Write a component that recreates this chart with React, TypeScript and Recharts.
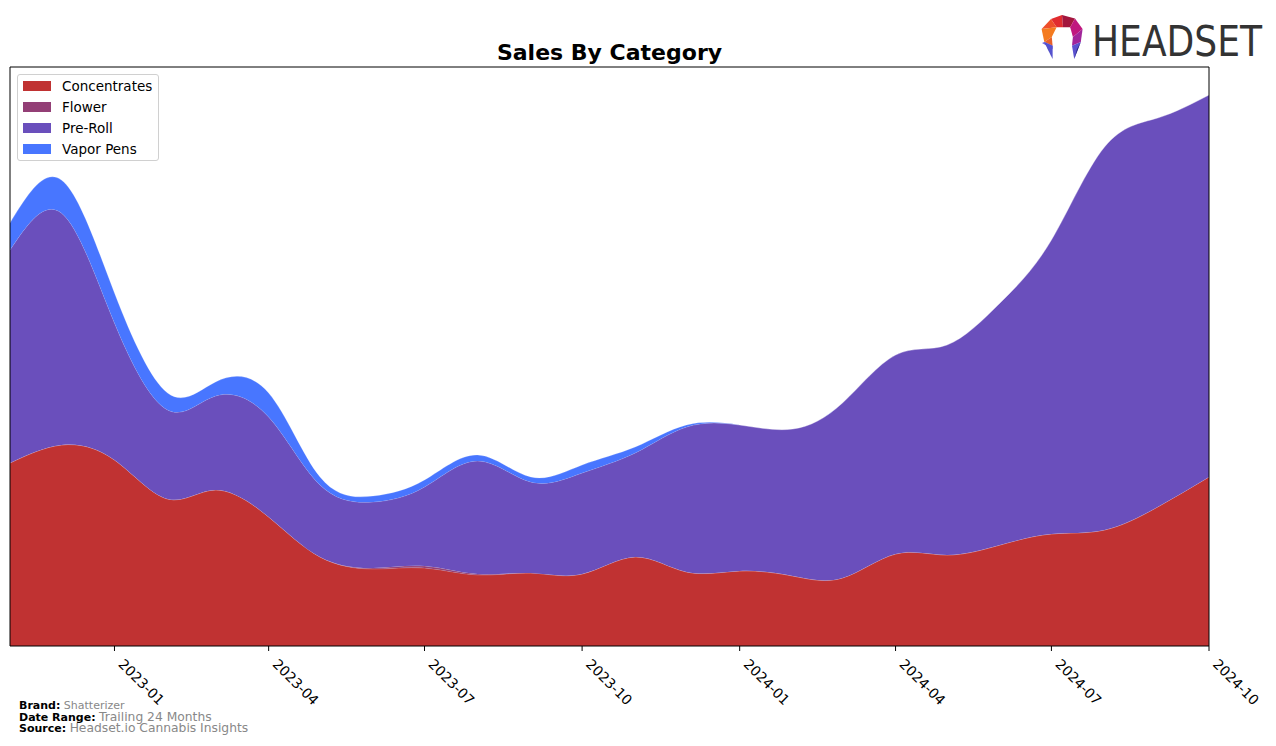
import React from 'react';
import { AreaChart, Area, XAxis, YAxis, Legend, ReferenceArea } from 'recharts';

// monthly points (arbitrary units, no y axis shown)
const MONTHS = [
  '2022-11', '2022-12', '2023-01', '2023-02', '2023-03', '2023-04',
  '2023-05', '2023-06', '2023-07', '2023-08', '2023-09', '2023-10',
  '2023-11', '2023-12', '2024-01', '2024-02', '2024-03', '2024-04',
  '2024-05', '2024-06', '2024-07', '2024-08', '2024-09', '2024-10',
];
const CONCENTRATES = [183, 201, 186, 147, 156, 129, 89, 77, 78, 71, 73, 72, 89, 74, 75, 70, 68, 92, 91, 101, 112, 116, 139, 169];
const FLOWER = [0, 0, 0, 0, 0, 0, 0, 1, 2, 1, 0, 0, 0, 0, 0, 0, 0, 0, 0, 0, 0, 0, 0, 0];
const PRE_ROLL = [213, 232, 137, 89, 94, 100, 72, 66, 79, 113, 91, 101, 104, 145, 146, 147, 175, 199, 210, 242, 294, 383, 389, 382];
const VAPOR_PENS = [27, 33, 30, 17, 14, 24, 8, 6, 7, 6, 5, 8, 6, 2, 0, 0, 0, 0, 0, 0, 0, 0, 0, 0];
const TICK_LABELS = ['2023-01', '2023-04', '2023-07', '2023-10', '2024-01', '2024-04', '2024-07', '2024-10'];

const SERIES = [
  { key: 'Concentrates', color: '#C03232' },
  { key: 'Flower', color: '#933F76' },
  { key: 'Pre-Roll', color: '#6A4FBC' },
  { key: 'Vapor Pens', color: '#4876FF' },
];

const toTime = (m: string) => {
  const [y, mo] = m.split('-').map(Number);
  return Date.UTC(y, mo - 1, 1);
};
const fmtMonth = (t: number) => {
  const d = new Date(t);
  return `${d.getUTCFullYear()}-${String(d.getUTCMonth() + 1).padStart(2, '0')}`;
};

const data = MONTHS.map((m, i) => ({
  t: toTime(m),
  Concentrates: CONCENTRATES[i],
  Flower: FLOWER[i],
  'Pre-Roll': PRE_ROLL[i],
  'Vapor Pens': VAPOR_PENS[i],
}));

const X_START = toTime(MONTHS[0]);
const X_END = toTime(MONTHS[MONTHS.length - 1]);
const FONT = '"DejaVu Sans", sans-serif';

const RotatedTick = ({ x, y, payload }: any) => (
  <g transform={`translate(${x + 3},${y + 12})`}>
    <text transform="rotate(45)" x={0} y={0} textAnchor="start" fontSize={13.9} fontFamily={FONT} fill="#000">
      {fmtMonth(payload.value)}
    </text>
  </g>
);

const CustomLegend = () => (
  <div
    style={{
      border: '1px solid #d0d0d0',
      borderRadius: 3,
      background: 'rgba(255,255,255,0.8)',
      padding: '0 6px 1px 5px',
      fontFamily: FONT,
      fontSize: 13.5,
      color: '#000',
    }}
  >
    {SERIES.map((s) => (
      <div key={s.key} style={{ display: 'flex', alignItems: 'center', height: 21 }}>
        <span style={{ width: 28, height: 10, background: s.color, marginRight: 11, display: 'inline-block' }} />
        <span>{s.key}</span>
      </div>
    ))}
  </div>
);

// icon: ring open at the bottom, 44x44 box
const Logo = () => (
  <svg width={240} height={56} style={{ position: 'absolute', left: 1030, top: 10 }}>
    <g transform="translate(9,5)">
      <polygon points="12,4 23,0 24,12.3 17.6,12.3" fill="#E12C2F" />
      <polygon points="12,4 17.6,12.3 2.6,14" fill="#EE4F2A" />
      <polygon points="23,0 36,3.5 31.2,12.3 24,12.3" fill="#A3163D" />
      <polygon points="36,3.5 43.6,14 33.9,22 31.2,12.3" fill="#C0177E" />
      <polygon points="43.6,14 41.8,27 33,30.8 33.9,22" fill="#A1259A" />
      <polygon points="2.6,14 17.6,12.3 12.8,22 5.3,27" fill="#F47B20" />
      <polygon points="5.3,27 12.8,22 13.6,30.8" fill="#E8602A" />
      <polygon points="5.3,27 13.6,30.8 13.6,34 3,28" fill="#6A64DA" />
      <polygon points="5.3,27 13.6,30.8 13.6,44" fill="#5552CF" />
      <polygon points="5.3,27 13.6,44 9,34" fill="#30309A" />
      <polygon points="41.8,27 33,30.8 35.2,44" fill="#5B52CF" />
      <polygon points="41.8,27 35.2,44 38,34" fill="#262680" />
    </g>
    <text
      x={62}
      y={46}
      fontFamily='"DejaVu Sans Condensed", "Liberation Sans Narrow", sans-serif'
      fontSize={42}
      fill="#333333"
      textLength={170}
      lengthAdjust="spacingAndGlyphs"
    >
      HEADSET
    </text>
  </svg>
);

export default function App() {
  return (
    <div style={{ position: 'absolute', left: 0, top: 0, width: 1276, height: 746, background: '#fff', fontFamily: FONT }}>
      <div
        style={{
          position: 'absolute',
          left: 10,
          width: 1199,
          top: 38,
          textAlign: 'center',
          fontWeight: 'bold',
          fontSize: 22,
          lineHeight: '30px',
        }}
      >
        Sales By Category
      </div>
      <Logo />
      <AreaChart width={1276} height={746} data={data} margin={{ top: 67, right: 67, bottom: 40, left: 10 }}>
        <XAxis
          dataKey="t"
          type="number"
          domain={[X_START, X_END]}
          ticks={TICK_LABELS.map(toTime)}
          tick={<RotatedTick />}
          tickSize={5}
          tickLine={{ stroke: '#000' }}
          axisLine={false}
          height={60}
          interval={0}
          allowDataOverflow
        />
        <YAxis hide domain={[0, 579]} allowDataOverflow />
        {SERIES.map((s) => (
          <Area
            key={s.key}
            dataKey={s.key}
            stackId="1"
            type="natural"
            fill={s.color}
            fillOpacity={1}
            stroke="#ffffff"
            strokeOpacity={0.25}
            strokeWidth={0.8}
            isAnimationActive={false}
            dot={false}
            activeDot={false}
          />
        ))}
        <ReferenceArea x1={X_START} x2={X_END} y1={0} y2={579} fill="none" stroke="#000" strokeWidth={1} ifOverflow="visible" />
        <Legend
          layout="vertical"
          align="center"
          verticalAlign="middle"
          content={<CustomLegend />}
          wrapperStyle={{ left: 17, top: 74, width: 'auto', height: 'auto' }}
        />
      </AreaChart>
      <div style={{ position: 'absolute', left: 19, top: 700, fontSize: 11, lineHeight: '11.7px', color: '#000' }}>
        <div>
          <b>Brand:</b> <span style={{ color: '#888' }}>Shatterizer</span>
        </div>
        <div>
          <b>Date Range:</b> <span style={{ color: '#888', fontSize: 12.3 }}>Trailing 24 Months</span>
        </div>
        <div>
          <b>Source:</b> <span style={{ color: '#888', fontSize: 12.3 }}>Headset.io Cannabis Insights</span>
        </div>
      </div>
    </div>
  );
}
